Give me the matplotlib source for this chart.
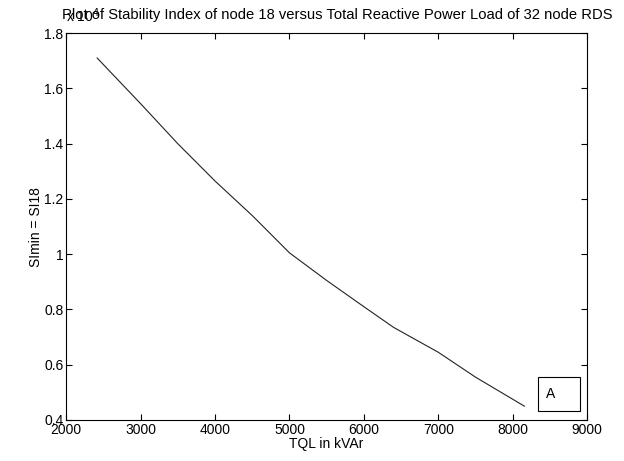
import matplotlib
matplotlib.use("Agg")
from matplotlib import pyplot as plt
from matplotlib.patches import Rectangle

# Data (SI scaled by 1e4)
tql = [2417, 3000, 3500, 4000, 4500, 5000, 5500, 6000, 6400, 7000, 7500, 8156]
si18 = [1.71, 1.545, 1.40, 1.265, 1.14, 1.005, 0.905, 0.81, 0.735, 0.645, 0.555, 0.45]
xticks = [2000, 3000, 4000, 5000, 6000, 7000, 8000, 9000]
yticks = [0.4, 0.6, 0.8, 1, 1.2, 1.4, 1.6, 1.8]
ylabels = ['0.4', '0.6', '0.8', '1', '1.2', '1.4', '1.6', '1.8']

plt.rcParams['font.family'] = ['Liberation Sans', 'DejaVu Sans']
plt.rcParams['font.size'] = 10

fig = plt.figure(figsize=(6.24, 4.61), dpi=100)
ax = fig.add_axes([0.106, 0.089, 0.835, 0.839])
ax.plot(tql, si18, color='#222222', lw=0.8)
ax.set_xlim(2000, 9000)
ax.set_ylim(0.4, 1.8)
ax.set_xticks(xticks)
ax.set_yticks(yticks)
ax.set_yticklabels(ylabels)
ax.tick_params(direction='in', top=True, right=True, length=4, pad=2)
ax.set_xlabel('TQL in kVAr', labelpad=0)
ax.set_ylabel('SImin = SI18', labelpad=1)
ax.set_title('Plot of Stability Index of node 18 versus Total Reactive Power Load of 32 node RDS',
             fontsize=10.6, pad=10, x=0.52)
ax.text(0.0, 1.02, r'x 10$^{4}$', transform=ax.transAxes, fontsize=10,
        ha='left', va='bottom')

# legend-like box "A"
ax.add_patch(Rectangle((0.905, 0.023), 0.081, 0.088, transform=ax.transAxes,
                       fill=False, ec='black', lw=0.8))
ax.text(0.92, 0.067, 'A', transform=ax.transAxes, ha='left', va='center')

fig.savefig('out.png', dpi=100)
